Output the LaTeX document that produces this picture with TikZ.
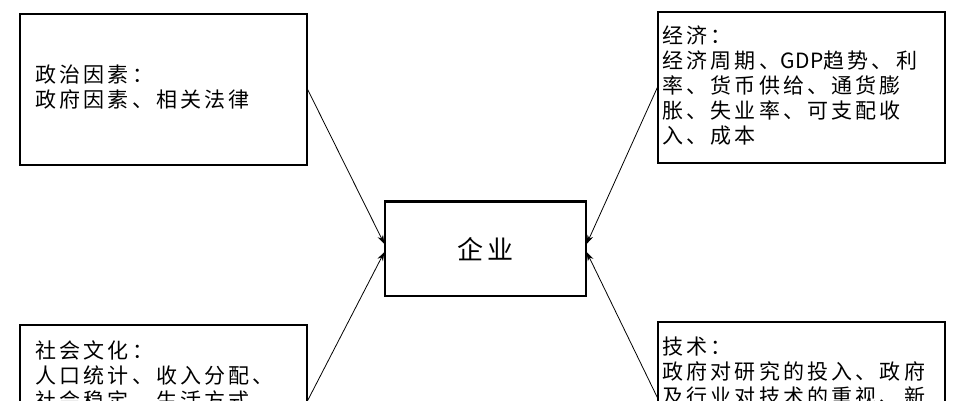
\documentclass[tikz,border=0pt]{standalone}
\usepackage{fontspec}
\newfontfamily\cjk[LetterSpace=15]{Noto Sans CJK SC}
\usetikzlibrary{arrows.meta, positioning, calc}

\begin{document}
\begin{tikzpicture}[x=1pt, y=-1pt,
    factor/.style={draw, line width=1.3pt, minimum width=287pt, minimum height=151pt, inner sep=0pt},
    factortext/.style={anchor=base west, align=left, inner sep=0pt, font=\cjk\fontsize{21}{25}\selectfont},
    link/.style={line width=0.8pt, -{Stealth[length=9pt, width=6pt]}}]
    \useasboundingbox (0,0) rectangle (972,400);
    \clip (0,0) rectangle (972,400);

    % Center: the firm
    \node[draw, line width=1.3pt, minimum width=201pt, minimum height=94pt, inner sep=0pt,
          font=\cjk\fontsize{26}{30}\selectfont] (firm) at (485.5,249) {企业};
    \draw[line width=2.4pt] (firm.north west) -- (firm.north east);

    % Four factor boxes
    \node[factor] (pol) at (163.5,89.5) {};
    \node[factor] (eco) at (801.5,87.5) {};
    \node[factor] (soc) at (163.5,400.5) {};
    \node[factor] (tec) at (801.5,397.5) {};

    % Texts (anchored on the baseline of the last line)
    \node[factortext] (poltext) at ([shift={(16,94)}]pol.north west)
      {政治因素：\\政府因素、相关法律};
    \node[factortext] (ecotext) at ([shift={(5,132.6)}]eco.north west)
      {经济：\\经济周期、{\addfontfeature{LetterSpace=3}GDP}趋势、利\\率、货币供给、通货膨\\胀、失业率、可支配收\\入、成本};
    \node[factortext] (soctext) at ([shift={(16,84.6)}]soc.north west)
      {社会文化：\\人口统计、收入分配、\\社会稳定、生活方式、};
    \node[factortext] (tectext) at ([shift={(5,83.6)}]tec.north west)
      {技术：\\政府对研究的投入、政府\\及行业对技术的重视、新};

    % Connectors
    \draw[link] (pol.east) -- ([yshift=5pt]firm.west);
    \draw[link] (soc.east) -- ([yshift=-3pt]firm.west);
    \draw[link] (eco.west) -- ([yshift=5pt]firm.east);
    \draw[link] (tec.west) -- ([yshift=-3pt]firm.east);
\end{tikzpicture}
\end{document}
